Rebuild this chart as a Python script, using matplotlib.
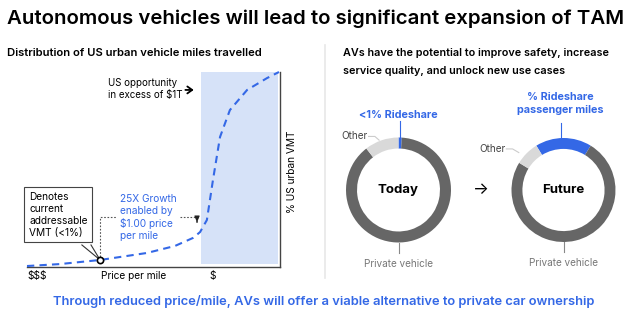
import matplotlib.pyplot as plt
from matplotlib.lines import Line2D
from matplotlib.patches import Rectangle

plt.rcParams["font.family"] = ["Inter", "DejaVu Sans"]

W, H = 640, 325
BLUE = "#3468e6"
DARK = "#666666"
LIGHT = "#d9d9d9"
SHADE = "#d6e2f8"

# VMT distribution curve (price axis runs expensive -> cheap, 0..100)
price_pos = [0, 13, 28.9, 47.4, 58.5, 65.6, 68.4, 71.1, 73.5, 76.3, 80.2, 87, 94.9, 99.6]
vmt_share = [0.5, 1.5, 3.6, 7.2, 10.8, 14.9, 17.9, 24.1, 44.6, 66.7, 80.5, 90.8, 96.9, 100]
current_point = (28.9, 3.6)
target_point = (67.2, 20.5)
shade_span = (68.8, 99.2)
shade_height = (1.5, 100)

# Donut shares, ordered clockwise from the top: rideshare, private, other
donut_labels = ["Rideshare", "Private vehicle", "Other"]
today_shares = [1.0, 88.5, 10.5]
future_shares = [17.5, 75.0, 7.5]
donut_colors = [BLUE, DARK, LIGHT]


def fx(px):
    return px / W


def fy(py):
    return 1 - py / H


fig = plt.figure(figsize=(6.4, 3.25), dpi=100)
fig.patch.set_facecolor("white")

fig.text(fx(7), fy(19), "Autonomous vehicles will lead to significant expansion of TAM",
         fontsize=14.7, fontweight="semibold", va="center", ha="left")
fig.text(fx(7), fy(53), "Distribution of US urban vehicle miles travelled",
         fontsize=8.1, fontweight="semibold", va="center", ha="left")
fig.text(fx(343), fy(53), "AVs have the potential to improve safety, increase",
         fontsize=7.8, fontweight="semibold", va="center", ha="left")
fig.text(fx(343), fy(71), "service quality, and unlock new use cases",
         fontsize=7.8, fontweight="semibold", va="center", ha="left")
fig.text(fx(324), fy(302),
         "Through reduced price/mile, AVs will offer a viable alternative to private car ownership",
         fontsize=9.3, fontweight="semibold", color=BLUE, va="center", ha="center")

fig.add_artist(Line2D([fx(325), fx(325)], [fy(45), fy(278)], transform=fig.transFigure,
                      color="#e8e8e8", lw=1.2))

# left panel: S-curve
ax = fig.add_axes([fx(27), fy(267), fx(280) - fx(27), fy(72) - fy(267)])
ax.set_xlim(0, 100)
ax.set_ylim(0, 100)
for side in ("top", "left"):
    ax.spines[side].set_visible(False)
for side in ("bottom", "right"):
    ax.spines[side].set_color("#444444")
    ax.spines[side].set_linewidth(1.0)
ax.set_xticks([])
ax.set_yticks([])
ax.patch.set_alpha(0)

ax.add_patch(Rectangle((shade_span[0], shade_height[0]), shade_span[1] - shade_span[0],
                       shade_height[1] - shade_height[0], facecolor=SHADE, edgecolor="none", zorder=0))
ax.plot(price_pos, vmt_share, color=BLUE, lw=1.5, ls=(0, (3.5, 2.5)), zorder=3, clip_on=False)

# callout box for today's addressable market
ax.plot([21.7, current_point[0], 25.3], [11.3, current_point[1], 11.3], color="#333333",
        lw=0.8, zorder=4, clip_on=False)
ax.text(0.8, 38.5, "Denotes\ncurrent\naddressable\nVMT (<1%)", fontsize=7.3, va="top", ha="left",
        linespacing=1.25, zorder=5, clip_on=False,
        bbox=dict(boxstyle="square,pad=0.45", fc="white", ec="#444444", lw=0.8))
ax.plot(*current_point, marker="o", ms=4.5, mfc="white", mec="black", mew=1.2, zorder=6, clip_on=False)

# dotted bracket from current point to the $1 target
ax.plot([current_point[0], current_point[0], 35.6], [current_point[1], 25.6, 25.6],
        color="#555555", lw=0.8, ls=(0, (1.5, 1.5)), zorder=2)
ax.plot([60.5, target_point[0], target_point[0]], [25.6, 25.6, 24.0],
        color="#555555", lw=0.8, ls=(0, (1.5, 1.5)), zorder=2)
ax.annotate("", xy=(target_point[0], target_point[1] + 1), xytext=(target_point[0], 24.5),
            arrowprops=dict(arrowstyle="-|>,head_width=0.15,head_length=0.35", color="#222222", lw=0.8))
ax.text(36.8, 37.5, "25X Growth\nenabled by\n\\$1.00 price\nper mile", fontsize=7.3, color=BLUE,
        va="top", ha="left", linespacing=1.25)

ax.text(32, 97, "US opportunity\nin excess of \\$1T", fontsize=7.0, va="top", ha="left", linespacing=1.3)
ax.annotate("", xy=(67, 90.8), xytext=(61.5, 90.8),
            arrowprops=dict(arrowstyle="->,head_width=0.25,head_length=0.35", color="black", lw=1.3))

ax.text(104.7, 48.7, "% US urban VMT", rotation=90, fontsize=7.3, va="center", ha="center", clip_on=False)
ax.text(0, -4.6, "\\$\\$\\$", fontsize=7.3, va="center", ha="left", clip_on=False)
ax.text(42, -4.6, "Price per mile", fontsize=7.3, va="center", ha="center", clip_on=False)
ax.text(73.5, -4.6, "\\$", fontsize=7.3, va="center", ha="center", clip_on=False)


def draw_donut(cx, cy, r, shares, center_label):
    dax = fig.add_axes([fx(cx - r), fy(cy + r), 2 * r / W, 2 * r / H])
    start = 90 + shares[0] / 100 * 360 / 2 if shares[0] > 5 else 90
    dax.pie(shares, colors=donut_colors, startangle=start, counterclock=False,
            wedgeprops=dict(width=0.21, edgecolor="none"))
    dax.set_xlim(-1, 1)
    dax.set_ylim(-1, 1)
    dax.set_aspect("equal")
    dax.axis("off")
    dax.text(0, 0, center_label, fontsize=9.5, fontweight="bold", ha="center", va="center")
    dax.plot([0, 0], [-1.0, -1.2], color="#888888", lw=0.8, clip_on=False)
    dax.text(0, -1.41, "Private vehicle", fontsize=7.2, color="#777777", ha="center", va="center",
             clip_on=False)
    return dax


today = draw_donut(398.5, 190, 52.5, today_shares, "Today")
today.plot([0.02, 0.02], [1.0, 1.31], color=BLUE, lw=0.8, clip_on=False)
today.text(0, 1.43, "<1% Rideshare", fontsize=7.8, fontweight="bold", color=BLUE,
           ha="center", va="center", clip_on=False)
today.plot([-0.57, -0.45, -0.37], [1.02, 1.02, 0.95], color="#cccccc", lw=0.8, clip_on=False)
today.text(-0.83, 1.02, "Other", fontsize=7.2, color="#444444", ha="center", va="center", clip_on=False)

future = draw_donut(563.5, 190, 52, future_shares, "Future")
future.plot([-0.05, -0.05], [1.0, 1.29], color=BLUE, lw=0.8, clip_on=False)
future.text(-0.07, 1.66, "% Rideshare\npassenger miles", fontsize=7.8, fontweight="bold", color=BLUE,
            ha="center", va="center", linespacing=1.3, clip_on=False)
future.plot([-1.1, -0.98, -0.86], [0.79, 0.79, 0.72], color="#cccccc", lw=0.8, clip_on=False)
future.text(-1.36, 0.79, "Other", fontsize=7.2, color="#444444", ha="center", va="center", clip_on=False)

fig.text(fx(481), fy(190), "→", fontsize=12, ha="center", va="center")

fig.savefig("out.png", dpi=100)
